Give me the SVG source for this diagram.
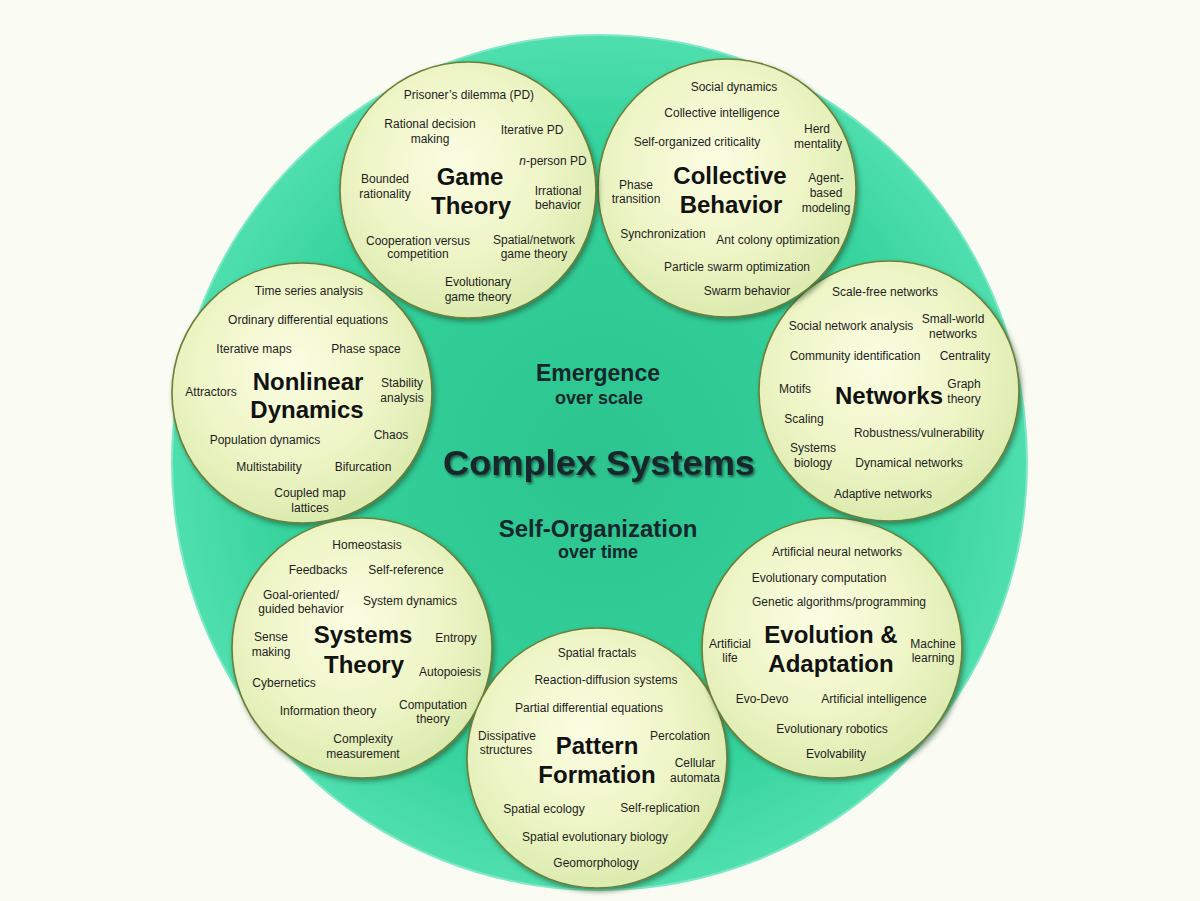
<svg xmlns="http://www.w3.org/2000/svg" width="1200" height="901" viewBox="0 0 1200 901">
<defs>
<radialGradient id="gBig" cx="50%" cy="50%" r="50%">
<stop offset="0" stop-color="#2cc48f"/>
<stop offset="0.75" stop-color="#35d39d"/>
<stop offset="1" stop-color="#4fdfae"/>
</radialGradient>
<radialGradient id="gSmall" cx="45%" cy="40%" r="60%">
<stop offset="0" stop-color="#fbfde2"/>
<stop offset="0.6" stop-color="#eef5c6"/>
<stop offset="1" stop-color="#dcebaf"/>
</radialGradient>
<filter id="shadow" x="-10%" y="-10%" width="125%" height="125%">
<feDropShadow dx="2" dy="3" stdDeviation="2.5" flood-color="#1d4a2a" flood-opacity="0.55"/>
</filter>
<filter id="tshadow" x="-5%" y="-20%" width="110%" height="150%">
<feDropShadow dx="1.5" dy="2" stdDeviation="1.2" flood-color="#0c1a20" flood-opacity="0.6"/>
</filter>
<style>
.bub{fill:url(#gSmall);stroke:#6c7f38;stroke-width:1.6;filter:url(#shadow)}
.lbl{font-family:"Liberation Sans",Arial,sans-serif;font-size:12px;fill:#1e1e1e;text-anchor:middle;dominant-baseline:central}
.ttl{font-family:"Liberation Sans",Arial,sans-serif;font-size:24px;font-weight:bold;fill:#121212;text-anchor:middle;dominant-baseline:central}
.ctr{font-family:"Liberation Sans",Arial,sans-serif;font-weight:bold;fill:#16262a;text-anchor:middle;dominant-baseline:central}
</style>
</defs>
<rect width="1200" height="901" fill="#fafcf3"/>
<g id="bigCircle">
<circle cx="599.5" cy="462.5" r="427.5" fill="url(#gBig)" stroke="#7fe8c6" stroke-width="2"/>
</g>
<g id="center">
<text class="ctr" x="598" y="373" font-size="23">Emergence</text>
<text class="ctr" x="599" y="398" font-size="18">over scale</text>
<text class="ctr" x="599" y="462" font-size="35" fill="#1b2b4d" filter="url(#tshadow)" textLength="312" lengthAdjust="spacingAndGlyphs">Complex Systems</text>
<text class="ctr" x="598" y="528" font-size="24">Self-Organization</text>
<text class="ctr" x="598" y="552" font-size="18">over time</text>
</g>
<g id="connectors"/>
<g id="nonlinear">
<circle class="bub" cx="302" cy="393" r="130"/>
<text class="lbl" x="309" y="291">Time series analysis</text>
<text class="lbl" x="308" y="320">Ordinary differential equations</text>
<text class="lbl" x="254" y="349">Iterative maps</text>
<text class="lbl" x="366" y="349">Phase space</text>
<text class="lbl" x="211" y="392">Attractors</text>
<text class="ttl" x="308" y="381">Nonlinear</text>
<text class="ttl" x="307" y="409">Dynamics</text>
<text class="lbl" x="402" y="383">Stability</text>
<text class="lbl" x="402" y="398">analysis</text>
<text class="lbl" x="391" y="435">Chaos</text>
<text class="lbl" x="265" y="440">Population dynamics</text>
<text class="lbl" x="269" y="467">Multistability</text>
<text class="lbl" x="363" y="467">Bifurcation</text>
<text class="lbl" x="310" y="493">Coupled map</text>
<text class="lbl" x="310" y="508">lattices</text>
</g>
<g id="systems">
<circle class="bub" cx="362" cy="648" r="130"/>
<text class="lbl" x="367" y="545">Homeostasis</text>
<text class="lbl" x="318" y="570">Feedbacks</text>
<text class="lbl" x="406" y="570">Self-reference</text>
<text class="lbl" x="301" y="595">Goal-oriented/</text>
<text class="lbl" x="301" y="609">guided behavior</text>
<text class="lbl" x="410" y="601">System dynamics</text>
<text class="lbl" x="271" y="637">Sense</text>
<text class="lbl" x="271" y="652">making</text>
<text class="ttl" x="363" y="634">Systems</text>
<text class="ttl" x="364" y="664">Theory</text>
<text class="lbl" x="456" y="638">Entropy</text>
<text class="lbl" x="450" y="672">Autopoiesis</text>
<text class="lbl" x="284" y="683">Cybernetics</text>
<text class="lbl" x="328" y="711">Information theory</text>
<text class="lbl" x="433" y="705">Computation</text>
<text class="lbl" x="433" y="719">theory</text>
<text class="lbl" x="363" y="739">Complexity</text>
<text class="lbl" x="363" y="754">measurement</text>
</g>
<g id="pattern">
<circle class="bub" cx="597" cy="758" r="130"/>
<text class="lbl" x="597" y="653">Spatial fractals</text>
<text class="lbl" x="606" y="680">Reaction-diffusion systems</text>
<text class="lbl" x="589" y="708">Partial differential equations</text>
<text class="lbl" x="507" y="736">Dissipative</text>
<text class="lbl" x="506" y="750">structures</text>
<text class="ttl" x="597" y="745">Pattern</text>
<text class="ttl" x="597" y="774">Formation</text>
<text class="lbl" x="680" y="736">Percolation</text>
<text class="lbl" x="695" y="763">Cellular</text>
<text class="lbl" x="695" y="778">automata</text>
<text class="lbl" x="544" y="809">Spatial ecology</text>
<text class="lbl" x="660" y="808">Self-replication</text>
<text class="lbl" x="595" y="837">Spatial evolutionary biology</text>
<text class="lbl" x="596" y="863">Geomorphology</text>
</g>
<g id="evolution">
<circle class="bub" cx="832" cy="648" r="130"/>
<text class="lbl" x="837" y="552">Artificial neural networks</text>
<text class="lbl" x="819" y="578">Evolutionary computation</text>
<text class="lbl" x="839" y="602">Genetic algorithms/programming</text>
<text class="lbl" x="730" y="644">Artificial</text>
<text class="lbl" x="730" y="658">life</text>
<text class="ttl" x="831" y="634">Evolution &amp;</text>
<text class="ttl" x="831" y="663">Adaptation</text>
<text class="lbl" x="933" y="644">Machine</text>
<text class="lbl" x="933" y="658">learning</text>
<text class="lbl" x="762" y="699">Evo-Devo</text>
<text class="lbl" x="874" y="699">Artificial intelligence</text>
<text class="lbl" x="832" y="729">Evolutionary robotics</text>
<text class="lbl" x="836" y="754">Evolvability</text>
</g>
<g id="networks">
<circle class="bub" cx="889" cy="391" r="130"/>
<text class="lbl" x="885" y="292">Scale-free networks</text>
<text class="lbl" x="851" y="326">Social network analysis</text>
<text class="lbl" x="953" y="319">Small-world</text>
<text class="lbl" x="953" y="334">networks</text>
<text class="lbl" x="855" y="356">Community identification</text>
<text class="lbl" x="965" y="356">Centrality</text>
<text class="lbl" x="795" y="389">Motifs</text>
<text class="ttl" x="889" y="395">Networks</text>
<text class="lbl" x="964" y="384">Graph</text>
<text class="lbl" x="964" y="399">theory</text>
<text class="lbl" x="804" y="419">Scaling</text>
<text class="lbl" x="919" y="433">Robustness/vulnerability</text>
<text class="lbl" x="813" y="448">Systems</text>
<text class="lbl" x="813" y="463">biology</text>
<text class="lbl" x="909" y="463">Dynamical networks</text>
<text class="lbl" x="883" y="494">Adaptive networks</text>
</g>
<g id="collective">
<circle class="bub" cx="727" cy="188" r="129"/>
<text class="lbl" x="734" y="87">Social dynamics</text>
<text class="lbl" x="722" y="113">Collective intelligence</text>
<text class="lbl" x="697" y="142">Self-organized criticality</text>
<text class="lbl" x="817" y="129">Herd</text>
<text class="lbl" x="818" y="144">mentality</text>
<text class="lbl" x="636" y="185">Phase</text>
<text class="lbl" x="636" y="199">transition</text>
<text class="ttl" x="730" y="175">Collective</text>
<text class="ttl" x="731" y="204">Behavior</text>
<text class="lbl" x="826" y="178">Agent-</text>
<text class="lbl" x="826" y="193">based</text>
<text class="lbl" x="826" y="208">modeling</text>
<text class="lbl" x="663" y="234">Synchronization</text>
<text class="lbl" x="778" y="240">Ant colony optimization</text>
<text class="lbl" x="737" y="267">Particle swarm optimization</text>
<text class="lbl" x="747" y="291">Swarm behavior</text>
</g>
<g id="game">
<circle class="bub" cx="468" cy="190" r="128"/>
<text class="lbl" x="469" y="95">Prisoner’s dilemma (PD)</text>
<text class="lbl" x="430" y="124">Rational decision</text>
<text class="lbl" x="430" y="139">making</text>
<text class="lbl" x="532" y="130">Iterative PD</text>
<text class="lbl" x="553" y="161"><tspan font-style="italic">n</tspan>-person PD</text>
<text class="lbl" x="385" y="179">Bounded</text>
<text class="lbl" x="385" y="194">rationality</text>
<text class="ttl" x="470" y="176">Game</text>
<text class="ttl" x="471" y="205">Theory</text>
<text class="lbl" x="558" y="191">Irrational</text>
<text class="lbl" x="558" y="205">behavior</text>
<text class="lbl" x="418" y="241">Cooperation versus</text>
<text class="lbl" x="418" y="254">competition</text>
<text class="lbl" x="534" y="240">Spatial/network</text>
<text class="lbl" x="534" y="254">game theory</text>
<text class="lbl" x="478" y="282">Evolutionary</text>
<text class="lbl" x="478" y="297">game theory</text>
</g>
</svg>
